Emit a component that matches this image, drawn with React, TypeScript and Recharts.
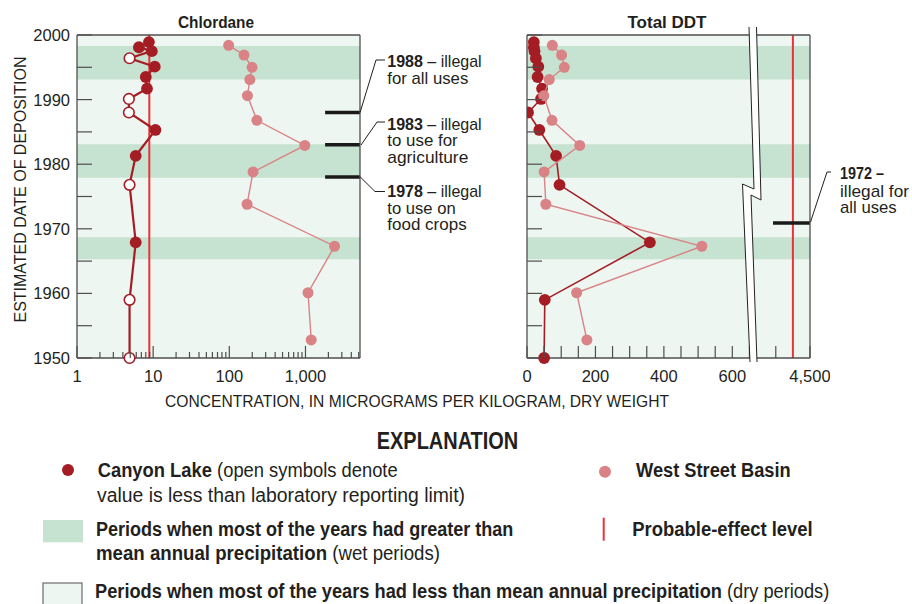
import React from "react";
import {
  ScatterChart,
  Scatter,
  XAxis,
  YAxis,
  CartesianGrid,
  ReferenceArea,
  ReferenceLine,
} from "recharts";

// colours
const CANYON_RED = "#a51d24";
const WEST_PINK = "#d98386";
const PEL_RED = "#e6343c";
const DRY_BG = "#edf6f0";
const WET_BAND = "#c6e2d1";
const FRAME = "#4f4f4f";
const INK = "#231f20";

const NARROW = "'Liberation Sans Narrow', 'Liberation Sans', Arial, sans-serif";
const DIGITS = "'Liberation Sans', Arial, sans-serif";

// estimated deposition dates of the core samples
const canyonYears = [
  1998.9, 1998.1, 1997.5, 1996.4, 1995.1, 1993.5, 1991.7, 1990.1, 1988.0,
  1985.3, 1981.3, 1976.8, 1967.9, 1959.0, 1950.0,
];
const westYears = [
  1998.4, 1996.9, 1995.0, 1993.1, 1990.6, 1986.8, 1982.9, 1978.8, 1973.8,
  1967.3, 1960.1, 1952.8,
];

// chlordane, ug/kg
const canyonChlordane = [8.8, 6.5, 9.6, 4.9, 10.5, 8.0, 8.3, 4.8, 4.8, 10.7, 5.9, 4.9, 5.9, 4.9, 4.9];
const canyonChlordaneOpen = [false, false, false, true, false, false, false, true, true, false, false, true, false, true, true];
const westChlordane = [98, 156, 199, 186, 173, 230, 980, 205, 171, 2410, 1080, 1190];

// total DDT, ug/kg
const canyonDDT = [20, 20, 22, 26, 33, 31, 44, 41, 3, 36, 85, 95, 359, 52, 50];
const westDDT = [74, 101, 109, 65, 49, 73, 154, 50, 55, 511, 145, 175];

// probable-effect levels
const chlordanePEL = 8.9;
const ddtPEL = 4450;

// wet periods [from, to]
const wetPeriods = [
  [1993.1, 1998.3],
  [1977.9, 1983.1],
  [1965.3, 1968.7],
];

const yearTicks = [1950, 1955, 1960, 1965, 1970, 1975, 1980, 1985, 1990, 1995, 2000];
const yearLabels = [1950, 1960, 1970, 1980, 1990, 2000];

const chlordaneTicks = [
  1, 2, 3, 4, 5, 6, 7, 8, 9, 10, 20, 30, 40, 50, 60, 70, 80, 90,
  100, 200, 300, 400, 500, 600, 700, 800, 900, 1000, 2000, 3000, 4000, 5000,
];
const chlordaneLabels = [1, 10, 100, 1000];

const ddtTicks = [0, 50, 100, 150, 200, 250, 300, 350, 400, 450, 500, 550, 600, 650, 4400, 4500];
const ddtLabels = [0, 200, 400, 600, 4500];

// regulation marks
const chlordaneBans = [1988, 1983, 1978];
const ddtBanMark = 1970.9; // drawn a little below 1972 in the original

// broken DDT axis: values past the break get shifted left
const DDT_SHIFT = 3673;
const ddtX = (v: number) => (v > 2000 ? v - DDT_SHIFT : v);
const ddtBack = (v: number) => (v > 700 ? v + DDT_SHIFT : v);

const fmt = (v: number) => v.toLocaleString("en-US");

const canyonChlData = canyonYears.map((y, i) => ({ x: canyonChlordane[i], y, open: canyonChlordaneOpen[i] }));
const westChlData = westYears.map((y, i) => ({ x: westChlordane[i], y }));
const canyonDDTData = canyonYears.map((y, i) => ({ x: ddtX(canyonDDT[i]), y }));
const westDDTData = westYears.map((y, i) => ({ x: ddtX(westDDT[i]), y }));

const makeDot = (color: string, r: number) => (props: any) => {
  const { cx, cy, payload } = props;
  if (payload && payload.open) {
    return <circle cx={cx} cy={cy} r={r - 0.6} fill="#fff" stroke={color} strokeWidth={1.6} />;
  }
  return <circle cx={cx} cy={cy} r={r} fill={color} />;
};

const bottomTick = (labels: number[], show: (v: number) => string, len: (v: number) => number) => (p: any) => {
  const { x, y, payload } = p;
  const v = payload.value;
  return (
    <g>
      <line x1={x} x2={x} y1={y} y2={y - len(v)} stroke={FRAME} strokeWidth={1.2} />
      {labels.includes(v) && (
        <text x={x} y={y + 24} textAnchor="middle" fontSize={16.5} fontFamily={DIGITS} fill={INK}>
          {show(v)}
        </text>
      )}
    </g>
  );
};

const topTick = (len: (v: number) => number) => (p: any) => {
  const { x, y, payload } = p;
  return <line x1={x} x2={x} y1={y} y2={y + len(payload.value)} stroke={FRAME} strokeWidth={1.2} />;
};

const leftTick = (withLabels: boolean) => (p: any) => {
  const { x, y, payload } = p;
  const v = payload.value;
  return (
    <g>
      <line x1={x} x2={x + 15} y1={y} y2={y} stroke={FRAME} strokeWidth={1.2} />
      {withLabels && yearLabels.includes(v) && (
        <text x={x - 7} y={y + 6} textAnchor="end" fontSize={16.5} fontFamily={DIGITS} fill={INK}>
          {v}
        </text>
      )}
    </g>
  );
};

const rightTick = (p: any) => {
  const { x, y } = p;
  return <line x1={x} x2={x - 15} y1={y} y2={y} stroke={FRAME} strokeWidth={1.2} />;
};

// plot area sits at x 77..360, y 35..358 inside each 380x400 chart
const W = 380;
const H = 400;
const AX_H = 20;
const AX_W = 30;
const FRONT_MARGIN = { top: 35 - AX_H, right: 10, bottom: 42 - AX_H, left: 77 - AX_W };
const BACK_MARGIN = { top: 35, right: 20, bottom: 42 - AX_H, left: 77 - AX_W };
const axisLine = { stroke: FRAME, strokeWidth: 1.3 };

const chlLen = (v: number) => ([1, 10, 100, 1000].includes(v) ? 12 : 6);
const ddtLen = () => 12;

const shared = {
  interval: 0 as const,
  tickSize: 0,
  tickMargin: 0,
  tickLine: false,
  axisLine,
};

type XCfg = { scale?: "log" | "linear"; domain: number[]; ticks: number[] };

const chlXCfg: XCfg = { scale: "log", domain: [1, 5200], ticks: chlordaneTicks };
const ddtXCfg: XCfg = { scale: "linear", domain: [0, ddtX(4500)], ticks: ddtTicks.map(ddtX) };

// back layer: dry-period background only
const Backdrop = ({ cfg }: { cfg: XCfg }) => (
  <ScatterChart width={W} height={H} margin={BACK_MARGIN}>
    <CartesianGrid horizontal={false} vertical={false} fill={DRY_BG} fillOpacity={1} />
    <XAxis dataKey="x" type="number" scale={cfg.scale} domain={cfg.domain} allowDataOverflow height={AX_H} tick={false} tickLine={false} axisLine={false} />
    <YAxis dataKey="y" type="number" domain={[1950, 2000]} allowDataOverflow width={AX_W} tick={false} tickLine={false} axisLine={false} />
  </ScatterChart>
);

// front layer: wet bands, frame, ticks, reference lines and series
const Front = ({
  cfg,
  tick,
  len,
  yLabels,
  children,
}: {
  cfg: XCfg;
  tick: (p: any) => React.ReactElement;
  len: (v: number) => number;
  yLabels: boolean;
  children: React.ReactNode;
}) => (
  <ScatterChart width={W} height={H} margin={FRONT_MARGIN}>
    {wetPeriods.map(([a, b]) => (
      <ReferenceArea key={a} y1={a} y2={b} fill={WET_BAND} fillOpacity={1} stroke="none" />
    ))}
    <XAxis {...shared} dataKey="x" type="number" scale={cfg.scale} domain={cfg.domain} allowDataOverflow ticks={cfg.ticks} height={AX_H} tick={tick} />
    <XAxis {...shared} xAxisId="top" orientation="top" type="number" scale={cfg.scale} domain={cfg.domain} allowDataOverflow ticks={cfg.ticks} height={AX_H} tick={topTick(len)} />
    <YAxis {...shared} dataKey="y" type="number" domain={[1950, 2000]} ticks={yearTicks} width={AX_W} tick={leftTick(yLabels)} />
    <YAxis {...shared} yAxisId="right" orientation="right" type="number" domain={[1950, 2000]} ticks={yearTicks} width={10} tick={rightTick} />
    {children}
  </ScatterChart>
);

const ChlordanePanel = () => (
  <Front cfg={chlXCfg} tick={bottomTick(chlordaneLabels, fmt, chlLen)} len={chlLen} yLabels>
    <ReferenceLine x={chlordanePEL} stroke={PEL_RED} strokeWidth={2} />
    {chlordaneBans.map((yr) => (
      <ReferenceLine
        key={yr}
        segment={[
          { x: 1810, y: yr },
          { x: 5200, y: yr },
        ]}
        stroke="#1a1a1a"
        strokeWidth={3.5}
      />
    ))}
    <Scatter
      data={canyonChlData}
      line={{ stroke: CANYON_RED, strokeWidth: 2.2 }}
      shape={makeDot(CANYON_RED, 5.9)}
      isAnimationActive={false}
    />
    <Scatter
      data={westChlData}
      line={{ stroke: WEST_PINK, strokeWidth: 1.4 }}
      shape={makeDot(WEST_PINK, 5.5)}
      isAnimationActive={false}
    />
  </Front>
);

const DDTPanel = () => (
  <Front
    cfg={ddtXCfg}
    tick={bottomTick(ddtLabels.map(ddtX), (v) => fmt(ddtBack(v)), ddtLen)}
    len={ddtLen}
    yLabels={false}
  >
    <ReferenceLine x={ddtX(ddtPEL)} stroke={PEL_RED} strokeWidth={2} />
    <ReferenceLine
      segment={[
        { x: ddtX(4392), y: ddtBanMark },
        { x: ddtX(4500), y: ddtBanMark },
      ]}
      stroke="#1a1a1a"
      strokeWidth={3.5}
    />
    <Scatter
      data={canyonDDTData}
      line={{ stroke: CANYON_RED, strokeWidth: 1.6 }}
      shape={makeDot(CANYON_RED, 5.9)}
      isAnimationActive={false}
    />
    <Scatter
      data={westDDTData}
      line={{ stroke: WEST_PINK, strokeWidth: 1.4 }}
      shape={makeDot(WEST_PINK, 5.5)}
      isAnimationActive={false}
    />
  </Front>
);

// text helper, width pinned to the original
const T = ({
  x,
  y,
  w,
  size = 17,
  bold = false,
  anchor = "start",
  children,
}: {
  x: number;
  y: number;
  w?: number;
  size?: number;
  bold?: boolean;
  anchor?: "start" | "middle" | "end";
  children: React.ReactNode;
}) => (
  <text
    x={x}
    y={y}
    fontSize={size}
    fontWeight={bold ? 700 : 400}
    fontFamily={NARROW}
    fill={INK}
    textAnchor={anchor}
    textLength={w}
    lengthAdjust={w ? "spacingAndGlyphs" : undefined}
  >
    {children}
  </text>
);

const B = ({ children }: { children: React.ReactNode }) => <tspan fontWeight={700}>{children}</tspan>;

const leader = { stroke: INK, strokeWidth: 1, fill: "none" };

const Overlay = () => (
  <svg width={912} height={604} style={{ position: "absolute", left: 0, top: 0, pointerEvents: "none" }}>
    {/* axis break */}
    <polygon points="749,27 754,189 742.5,184 750,362 757,362 751,195 761,200 756.5,27" fill="#fff" />
    <polyline points="749,27 754,189 742.5,184 750,362" stroke="#222" strokeWidth={1} fill="none" />
    <polyline points="756.5,27 761,200 751,195 757,362" stroke="#222" strokeWidth={1} fill="none" />

    <T x={216} y={28} w={76} bold anchor="middle">Chlordane</T>
    <T x={667} y={28} w={79} bold anchor="middle">Total DDT</T>

    <g transform="translate(26,189.5) rotate(-90)">
      <T x={0} y={0} w={266} anchor="middle">ESTIMATED DATE OF DEPOSITION</T>
    </g>
    <T x={165} y={407} w={504}>CONCENTRATION, IN MICROGRAMS PER KILOGRAM, DRY WEIGHT</T>

    {/* regulation notes */}
    <polyline points="360,112.7 376,60 385,60" {...leader} />
    <polyline points="361,145 377,122 385,122" {...leader} />
    <polyline points="360,176.7 375,191.5 385,191.5" {...leader} />
    <polyline points="810.5,222 827,172 831,172" {...leader} />

    <T x={387.3} y={67.3} w={94.4}><B>1988</B> – illegal</T>
    <T x={387.3} y={83.6} w={81}>for all uses</T>
    <T x={387.3} y={130} w={94.4}><B>1983</B> – illegal</T>
    <T x={387.3} y={146.3} w={70.4}>to use for</T>
    <T x={387.3} y={162.6} w={81}>agriculture</T>
    <T x={387.3} y={197.3} w={94.4}><B>1978</B> – illegal</T>
    <T x={387.3} y={213.6} w={68.4}>to use on</T>
    <T x={387.3} y={230} w={79.4}>food crops</T>
    <T x={840} y={179.3} w={44} bold>1972 –</T>
    <T x={840} y={196.7} w={69}>illegal for</T>
    <T x={840} y={213.3} w={56.7}>all uses</T>

    {/* explanation */}
    <T x={376.7} y={449.3} w={141.6} size={24} bold>EXPLANATION</T>

    <circle cx={68} cy={470} r={6} fill={CANYON_RED} />
    <T x={97.7} y={477.3} w={300} size={19.5}><B>Canyon Lake</B> (open symbols denote</T>
    <T x={97} y={501.7} w={368} size={19.5}>value is less than laboratory reporting limit)</T>

    <circle cx={605} cy={471.7} r={6} fill={WEST_PINK} />
    <T x={636} y={477.3} w={154.7} size={19.5} bold>West Street Basin</T>

    <rect x={43} y={520} width={40} height={22.3} fill={WET_BAND} />
    <T x={96} y={535.7} w={417.3} size={19.5} bold>Periods when most of the years had greater than</T>
    <T x={96} y={560} w={344} size={19.5}><B>mean annual precipitation</B> (wet periods)</T>

    <line x1={603.7} x2={603.7} y1={517.7} y2={540.7} stroke={PEL_RED} strokeWidth={2} />
    <T x={632.3} y={535.7} w={180.4} size={19.5} bold>Probable-effect level</T>

    <rect x={43} y={583} width={39} height={30} fill={DRY_BG} stroke="#6b6b6b" strokeWidth={1.2} />
    <T x={95} y={598.3} w={734.3} size={19.5}>
      <B>Periods when most of the years had less than mean annual precipitation</B> (dry periods)
    </T>
  </svg>
);

const layer = (left: number): React.CSSProperties => ({ position: "absolute", left, top: 0 });

export default function App() {
  return (
    <div
      style={{
        position: "absolute",
        left: 0,
        top: 0,
        width: 912,
        height: 604,
        overflow: "hidden",
        background: "#fff",
      }}
    >
      <div style={layer(0)}>
        <Backdrop cfg={chlXCfg} />
      </div>
      <div style={layer(450)}>
        <Backdrop cfg={ddtXCfg} />
      </div>
      <div style={layer(0)}>
        <ChlordanePanel />
      </div>
      <div style={layer(450)}>
        <DDTPanel />
      </div>
      <Overlay />
    </div>
  );
}
